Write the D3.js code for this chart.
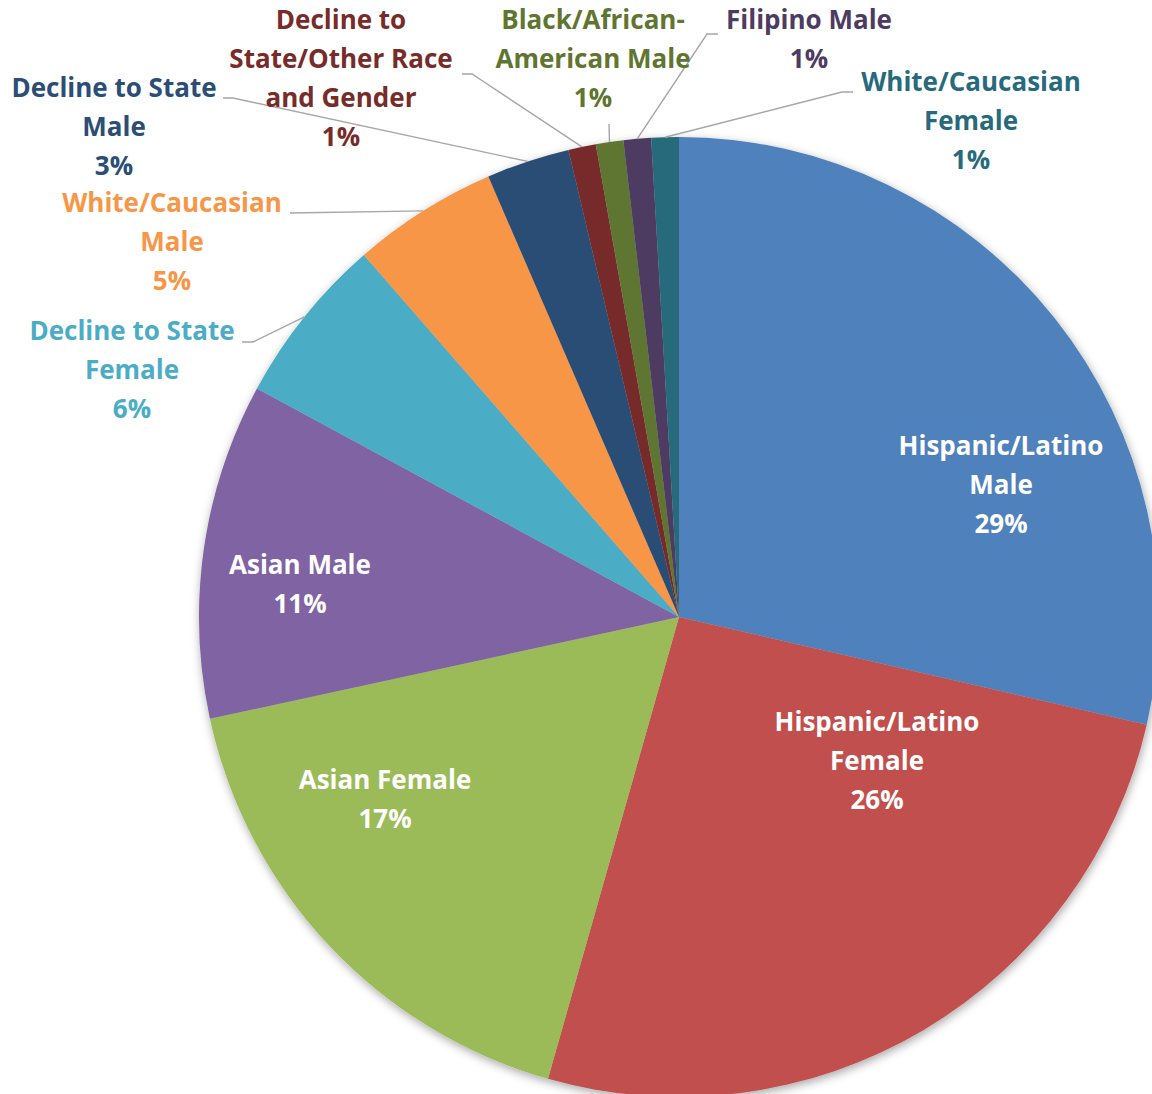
<!DOCTYPE html>
<html>
<head>
<meta charset="utf-8">
<script src="https://cdn.jsdelivr.net/npm/d3@7"></script>
<style>
    body { margin: 0; background: #fff; }
    svg text { font-family: "Open Sans", Lato, sans-serif; font-weight: 700; font-size: 26px; }
</style>
</head>
<body>
<div id="pie-chart"></div>
<script>
/* Pie chart: students by ethnicity and gender */

// slices in clockwise order starting at 12 o'clock
const groups = [
    "Hispanic/Latino Male", "Hispanic/Latino Female", "Asian Female", "Asian Male",
    "Decline to State Female", "White/Caucasian Male", "Decline to State Male",
    "Decline to State/Other Race and Gender", "Black/African-American Male",
    "Filipino Male", "White/Caucasian Female"
];
const shares = [28.6, 25.8, 17.2, 11.3, 5.7, 4.9, 2.8, 0.925, 0.925, 0.925, 0.925]; // percent
// how the label of each slice wraps (like the original chart)
const labelText = [
    ["Hispanic/Latino", "Male"], ["Hispanic/Latino", "Female"], ["Asian Female"], ["Asian Male"],
    ["Decline to State", "Female"], ["White/Caucasian", "Male"], ["Decline to State", "Male"],
    ["Decline to", "State/Other Race", "and Gender"], ["Black/African-", "American Male"],
    ["Filipino Male"], ["White/Caucasian", "Female"]
];
const sliceColors = ["#4f81bd", "#c0504d", "#9bbb59", "#8064a2", "#4bacc6", "#f79646",
                     "#2c4d75", "#772c2a", "#5f7530", "#4d3b62", "#276a7c"];

const width = 1152,
      height = 1094,
      cx = 679, cy = 617,
      radius = 480,
      lineHeight = 39;

// label placement: centre x / middle of first line, inside flag, leader line points
const labelLayout = [
    { x: 1001, y: 446, inside: true },
    { x: 877, y: 722, inside: true },
    { x: 385, y: 780, inside: true },
    { x: 300, y: 565, inside: true },
    { x: 132, y: 331, leader: [[253, 342], [242, 342]] },
    { x: 172, y: 203, leader: [[290, 213]] },
    { x: 114, y: 88, leader: [[233, 98], [223, 98]] },
    { x: 341, y: 20, leader: [[472, 74], [462, 74]] },
    { x: 593, y: 20, leader: [[609, 124]] },
    { x: 809, y: 20, leader: [[707, 34], [718, 34]] },
    { x: 971, y: 82, leader: [[842, 92], [853, 92]] }
];

const total = d3.sum(shares);
const data = groups.map((g, i) => ({
    group: g,
    value: shares[i],
    lines: labelText[i].concat(Math.round(shares[i] / total * 100) + "%"),
    color: sliceColors[i],
    layout: labelLayout[i]
}));

let svg = d3.select("#pie-chart")
    .append("svg")
    .attr("width", width)
    .attr("height", height)
    .attr("viewBox", [0, 0, width, height]);

// soft shadow round the pie
let shadow = svg.append("defs").append("filter")
    .attr("id", "pie-shadow")
    .attr("x", "-10%").attr("y", "-10%")
    .attr("width", "120%").attr("height", "120%");
shadow.append("feDropShadow")
    .attr("dx", 1).attr("dy", 3)
    .attr("stdDeviation", 5)
    .attr("flood-color", "#000")
    .attr("flood-opacity", 0.35);

let pie = d3.pie()
    .value(d => d.value)
    .sort(null);

let arc = d3.arc()
    .innerRadius(0)
    .outerRadius(radius);

let edge = d3.arc() // centroid of this one sits on the rim
    .innerRadius(radius)
    .outerRadius(radius);

let arcs = pie(data);

let g = svg.append("g")
    .attr("transform", `translate(${cx},${cy})`);

g.append("g")
    .attr("filter", "url(#pie-shadow)")
    .selectAll("path")
    .data(arcs)
    .join("path")
    .attr("d", arc)
    .attr("fill", d => d.data.color);

// leader lines from the rim to the outside labels
svg.append("g")
    .selectAll("polyline")
    .data(arcs.filter(d => d.data.layout.leader))
    .join("polyline")
    .attr("points", d => {
        let [ex, ey] = edge.centroid(d);
        return [[cx + ex, cy + ey]].concat(d.data.layout.leader).join(" ");
    })
    .attr("fill", "none")
    .attr("stroke", "#a6a6a6")
    .attr("stroke-width", 1.4);

let label = svg.append("g")
    .selectAll("text")
    .data(data)
    .join("text")
    .attr("text-anchor", "middle")
    .style("fill", d => d.layout.inside ? "#fff" : d.color);

label.selectAll("tspan")
    .data(d => d.lines.map((t, i) => ({ t, i, layout: d.layout })))
    .join("tspan")
    .attr("x", d => d.layout.x)
    .attr("y", d => d.layout.y + d.i * lineHeight + 9)
    .text(d => d.t);
</script>
</body>
</html>
